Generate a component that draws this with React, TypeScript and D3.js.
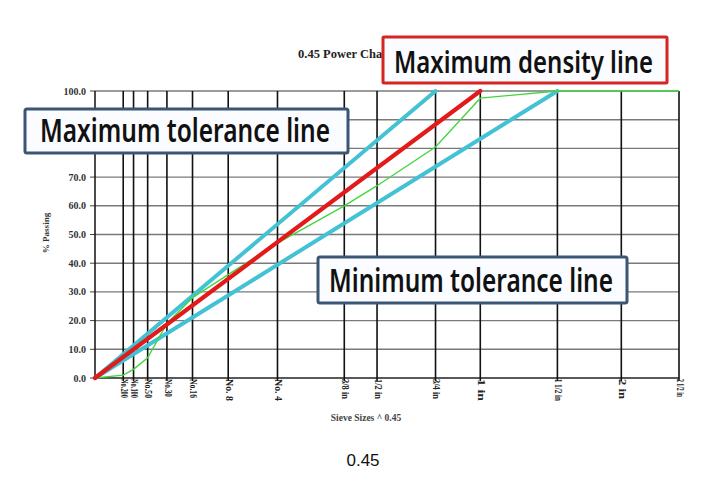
import React from "react";
import * as d3 from "d3";

const sieveLabels = ["No.200", "No.100", "No.50", "No.30", "No.16", "No. 8", "No. 4", "3/8 in", "1/2 in", "3/4 in", "1 in", "1 1/2 in", "2 in", "2 1/2 in"];
const sieveSizesMm = [0.075, 0.15, 0.3, 0.6, 1.18, 2.36, 4.75, 9.5, 12.5, 19, 25, 37.5, 50, 63];
const gradationPassing = [1, 3, 7, 19, 28, 36, 47, 60, 67, 80.5, 97.5, 100, 100, 100];
const yTicks = [0, 10, 20, 30, 40, 50, 60, 70, 80, 90, 100];
const maxDensitySize = 25;
const maxToleranceSize = 19;
const minToleranceSize = 37.5;
const labelLengths = [19, 19, 19, 18, 19, 22, 22, 20, 20, 20, 22, 22, 20, 18];

const P = 0.45;
const pw = (s: number) => Math.pow(s, P);

export default function App() {
  const x = d3.scaleLinear().domain([0, pw(63)]).range([95, 679]);
  const y = d3.scaleLinear().domain([0, 100]).range([378, 91]);
  const line = d3
    .line<[number, number]>()
    .x((d) => x(d[0]))
    .y((d) => y(d[1]));

  const straight = (s: number): [number, number][] => [
    [0, 0],
    [pw(s), 100],
  ];
  const gradation: [number, number][] = [[0, 0] as [number, number]].concat(
    sieveSizesMm.map((s, i) => [pw(s), gradationPassing[i]] as [number, number])
  );

  const serif = "'Liberation Serif', 'DejaVu Serif', serif";
  const boxFont = "'Noto Sans', 'Liberation Sans', sans-serif";

  return (
    <svg width={714} height={484} style={{ position: "absolute", left: 0, top: 0, background: "#fff" }}>
      {/* title */}
      <text x={298} y={58} fontFamily={serif} fontWeight="bold" fontSize={12.5} fill="#222">
        0.45 Power Chart
      </text>

      {/* horizontal grid */}
      {yTicks.map((t) => (
        <line key={"h" + t} x1={x(0)} x2={x(pw(63))} y1={y(t)} y2={y(t)} stroke={t === 0 ? "#222" : "#7a7a7a"} strokeWidth={1.4} />
      ))}
      {/* y ticks + labels */}
      {yTicks.map((t) => (
        <g key={"yt" + t}>
          <line x1={90} x2={95} y1={y(t)} y2={y(t)} stroke="#444" strokeWidth={1} />
          <text x={86} y={y(t) + 3.5} textAnchor="end" fontFamily={serif} fontWeight="bold" fontSize={10} fill="#333">
            {t.toFixed(1)}
          </text>
        </g>
      ))}
      {/* y axis */}
      <line x1={x(0)} x2={x(0)} y1={y(100)} y2={y(0)} stroke="#111" strokeWidth={1.5} />
      {/* vertical sieve lines */}
      {sieveSizesMm.map((s, i) => (
        <line key={"v" + i} x1={x(pw(s))} x2={x(pw(s))} y1={y(100)} y2={y(0) + 3} stroke="#111" strokeWidth={1.6} />
      ))}
      {/* x labels */}
      {sieveSizesMm.map((s, i) => {
        const lx = x(pw(s)) + 1;
        const ly = 379;
        return (
          <text
            key={"xl" + i}
            transform={`translate(${lx},${ly}) rotate(90)`}
            x={0}
            y={0}
            dy="0.35em"
            fontFamily={serif}
            fontWeight="bold"
            fontSize={9.5}
            fill="#222"
            textLength={labelLengths[i]}
            lengthAdjust="spacingAndGlyphs"
          >
            {sieveLabels[i]}
          </text>
        );
      })}

      {/* axis titles */}
      <text transform="translate(49,233) rotate(-90)" textAnchor="middle" fontFamily={serif} fontWeight="bold" fontSize={9} fill="#333">
        % Passing
      </text>
      <text x={366} y={421} textAnchor="middle" fontFamily={serif} fontWeight="bold" fontSize={9.5} fill="#444">
        Sieve Sizes ^ 0.45
      </text>

      {/* lines */}
      <path d={line(straight(maxToleranceSize)) || ""} fill="none" stroke="#42c2d4" strokeWidth={4} strokeLinecap="round" />
      <path d={line(straight(minToleranceSize)) || ""} fill="none" stroke="#42c2d4" strokeWidth={4} strokeLinecap="round" />
      <path d={line(gradation) || ""} fill="none" stroke="#44d640" strokeWidth={1.4} />
      <path d={line(straight(maxDensitySize)) || ""} fill="none" stroke="#e31a1a" strokeWidth={4.2} strokeLinecap="round" />

      {/* annotation boxes */}
      <rect x={25} y={109} width={323} height={44} rx={2} fill="#fbfcff" stroke="#3b5574" strokeWidth={3} />
      <text x={40} y={142} fontFamily={boxFont} fontWeight={600} fontSize={32} fill="#111" textLength={290} lengthAdjust="spacingAndGlyphs">
        Maximum tolerance line
      </text>

      <rect x={383} y={37} width={284} height={46} rx={1} fill="#fbfcff" stroke="#d42424" strokeWidth={3} />
      <text x={394} y={73} fontFamily={boxFont} fontWeight={600} fontSize={30} fill="#111" textLength={259} lengthAdjust="spacingAndGlyphs">
        Maximum density line
      </text>

      <rect x={318} y={257} width={309} height={46} rx={2} fill="#fbfcff" stroke="#3b5574" strokeWidth={3} />
      <text x={329} y={292} fontFamily={boxFont} fontWeight={600} fontSize={32} fill="#111" textLength={284} lengthAdjust="spacingAndGlyphs">
        Minimum tolerance line
      </text>

      {/* caption */}
      <text x={363} y={466} textAnchor="middle" fontFamily="'Liberation Sans', sans-serif" fontSize={17} fill="#111">
        0.45
      </text>
    </svg>
  );
}
